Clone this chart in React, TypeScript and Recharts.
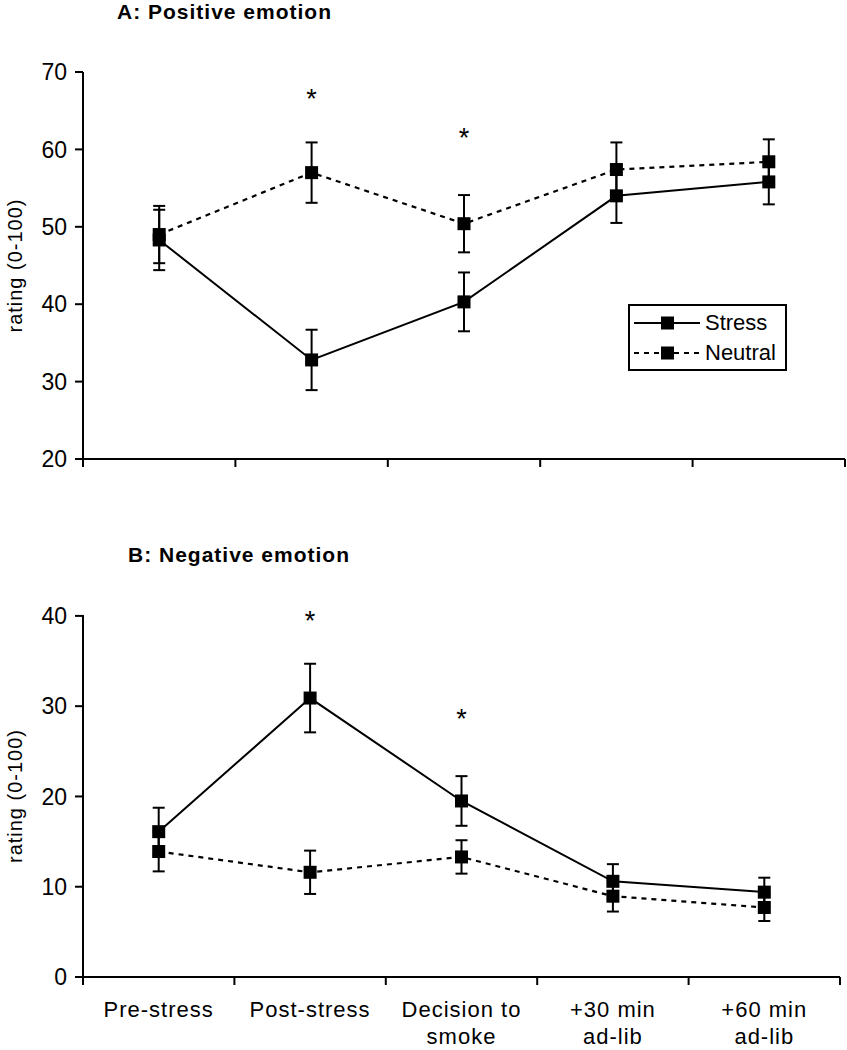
import { ComposedChart, Line, XAxis, YAxis, ErrorBar, Scatter, Legend } from "recharts";

const FONT = "'Liberation Sans', Arial, sans-serif";

const categories = ["Pre-stress", "Post-stress", "Decision to\nsmoke", "+30 min\nad-lib", "+60 min\nad-lib"];
const slots = [0.5, 1.5, 2.5, 3.5, 4.5];
const seriesNames = ["Stress", "Neutral"];

// A: positive emotion
const posStress = [48.3, 32.8, 40.3, 54.0, 55.8];
const posStressErr = [3.9, 3.9, 3.8, 3.5, 2.9];
const posNeutral = [49.0, 57.0, 50.4, 57.4, 58.4];
const posNeutralErr = [3.7, 3.9, 3.7, 3.5, 2.9];
const posStars = [{ x: 1.5, y: 67.3 }, { x: 2.5, y: 62.3 }];

// B: negative emotion
const negStress = [16.1, 30.9, 19.5, 10.6, 9.4];
const negStressErr = [2.65, 3.8, 2.75, 1.9, 1.6];
const negNeutral = [13.9, 11.6, 13.3, 8.95, 7.7];
const negNeutralErr = [2.2, 2.4, 1.85, 1.7, 1.5];
const negStars = [{ x: 1.5, y: 40.1 }, { x: 2.5, y: 29.2 }];

const posRows = slots.map((x, i) => ({
  x,
  stress: posStress[i],
  stressErr: posStressErr[i],
  neutral: posNeutral[i],
  neutralErr: posNeutralErr[i],
}));

const negRows = slots.map((x, i) => ({
  x,
  stress: negStress[i],
  stressErr: negStressErr[i],
  neutral: negNeutral[i],
  neutralErr: negNeutralErr[i],
}));

const Square = (p: any) => (
  <rect key={p.key} x={p.cx - 6.5} y={p.cy - 6.5} width={13} height={13} fill="#000" />
);

const Star = (p: any) => (
  <text x={p.cx} y={p.cy + 15} textAnchor="middle" fontSize={27} fontFamily={FONT} fill="#000">
    *
  </text>
);

const CatTick = (props: any) => {
  const { x, y, payload } = props;
  const i = slots.indexOf(payload.value);
  const lines = (categories[i] ?? "").split("\n");
  return (
    <text x={x} y={y} textAnchor="middle" fontSize={22} fontFamily={FONT} fill="#000" letterSpacing={1}>
      {lines.map((l, k) => (
        <tspan key={k} x={x} dy={k === 0 ? 20 : 27}>
          {l}
        </tspan>
      ))}
    </text>
  );
};

const renderLegend = () => (
  <div
    style={{
      border: "2px solid #000",
      boxSizing: "border-box",
      width: 159,
      height: 67,
      background: "#fff",
      padding: "2px 0 0 4px",
      fontFamily: FONT,
    }}
  >
    {seriesNames.map((name, i) => (
      <div key={name} style={{ display: "flex", alignItems: "center", height: 30 }}>
        <svg width={68} height={14}>
          <line x1={0} y1={7} x2={66} y2={7} stroke="#000" strokeWidth={2} strokeDasharray={i === 1 ? "5 5" : undefined} />
          <rect x={27} y={0.5} width={13} height={13} fill="#000" />
        </svg>
        <span style={{ fontSize: 22, marginLeft: 3, color: "#000" }}>{name}</span>
      </div>
    ))}
  </div>
);

const tickStyle = { fill: "#000", fontSize: 23, fontFamily: FONT };
const yLabel = {
  value: "rating (0-100)",
  angle: -90,
  position: "insideLeft" as const,
  offset: 15,
  style: { textAnchor: "middle", fill: "#000", fontSize: 20, fontFamily: FONT, letterSpacing: 1 },
};

export default function App() {
  return (
    <div style={{ position: "absolute", left: 0, top: 0, width: 847, height: 1050, background: "#fff" }}>
      <div style={{ position: "absolute", left: 117, top: 0, fontFamily: FONT, fontWeight: "bold", fontSize: 21, letterSpacing: 1 }}>
        A: Positive emotion
      </div>
      <div style={{ position: "absolute", left: 0, top: 0 }}>
        <ComposedChart width={847} height={490} data={posRows} margin={{ top: 72, right: 2, bottom: 11, left: 0 }}>
          <XAxis
            type="number"
            dataKey="x"
            domain={[0, 5]}
            ticks={[0, 1, 2, 3, 4, 5]}
            tickFormatter={() => ""}
            stroke="#000"
            strokeWidth={2}
            tickSize={8}
            height={20}
          />
          <YAxis
            type="number"
            domain={[20, 70]}
            ticks={[20, 30, 40, 50, 60, 70]}
            width={83}
            tickSize={8}
            tickMargin={8}
            stroke="#000"
            strokeWidth={2}
            tick={tickStyle}
            label={yLabel}
          />
          <Line dataKey="neutral" stroke="#000" strokeWidth={2.2} strokeDasharray="5 5" dot={Square} activeDot={false} isAnimationActive={false}>
            <ErrorBar dataKey="neutralErr" width={6} strokeWidth={2} stroke="#000" />
          </Line>
          <Line dataKey="stress" stroke="#000" strokeWidth={2} dot={Square} activeDot={false} isAnimationActive={false}>
            <ErrorBar dataKey="stressErr" width={6} strokeWidth={2} stroke="#000" />
          </Line>
          <Scatter data={posStars} dataKey="y" shape={Star} isAnimationActive={false} />
          <Legend
            layout="vertical"
            align="center"
            verticalAlign="middle"
            content={renderLegend}
            wrapperStyle={{ left: 628, top: 304, width: 159, height: 67 }}
          />
        </ComposedChart>
      </div>

      <div style={{ position: "absolute", left: 128, top: 543, fontFamily: FONT, fontWeight: "bold", fontSize: 21, letterSpacing: 1 }}>
        B: Negative emotion
      </div>
      <div style={{ position: "absolute", left: 0, top: 530 }}>
        <ComposedChart width={847} height={520} data={negRows} margin={{ top: 85, right: 7, bottom: 0, left: 0 }}>
          <XAxis
            type="number"
            dataKey="x"
            domain={[0, 5]}
            ticks={[0, 1, 2, 3, 4, 5]}
            tickFormatter={() => ""}
            stroke="#000"
            strokeWidth={2}
            tickSize={8}
            height={20}
          />
          <XAxis
            xAxisId="lab"
            type="number"
            dataKey="x"
            domain={[0, 5]}
            ticks={slots}
            axisLine={false}
            tickLine={false}
            tickSize={0}
            tickMargin={0}
            height={53}
            tick={<CatTick />}
          />
          <YAxis
            type="number"
            domain={[0, 40]}
            ticks={[0, 10, 20, 30, 40]}
            width={83}
            tickSize={8}
            tickMargin={8}
            stroke="#000"
            strokeWidth={2}
            tick={tickStyle}
            label={yLabel}
          />
          <Line dataKey="neutral" stroke="#000" strokeWidth={2.2} strokeDasharray="5 5" dot={Square} activeDot={false} isAnimationActive={false}>
            <ErrorBar dataKey="neutralErr" width={6} strokeWidth={2} stroke="#000" />
          </Line>
          <Line dataKey="stress" stroke="#000" strokeWidth={2} dot={Square} activeDot={false} isAnimationActive={false}>
            <ErrorBar dataKey="stressErr" width={6} strokeWidth={2} stroke="#000" />
          </Line>
          <Scatter data={negStars} dataKey="y" shape={Star} isAnimationActive={false} />
        </ComposedChart>
      </div>
    </div>
  );
}
